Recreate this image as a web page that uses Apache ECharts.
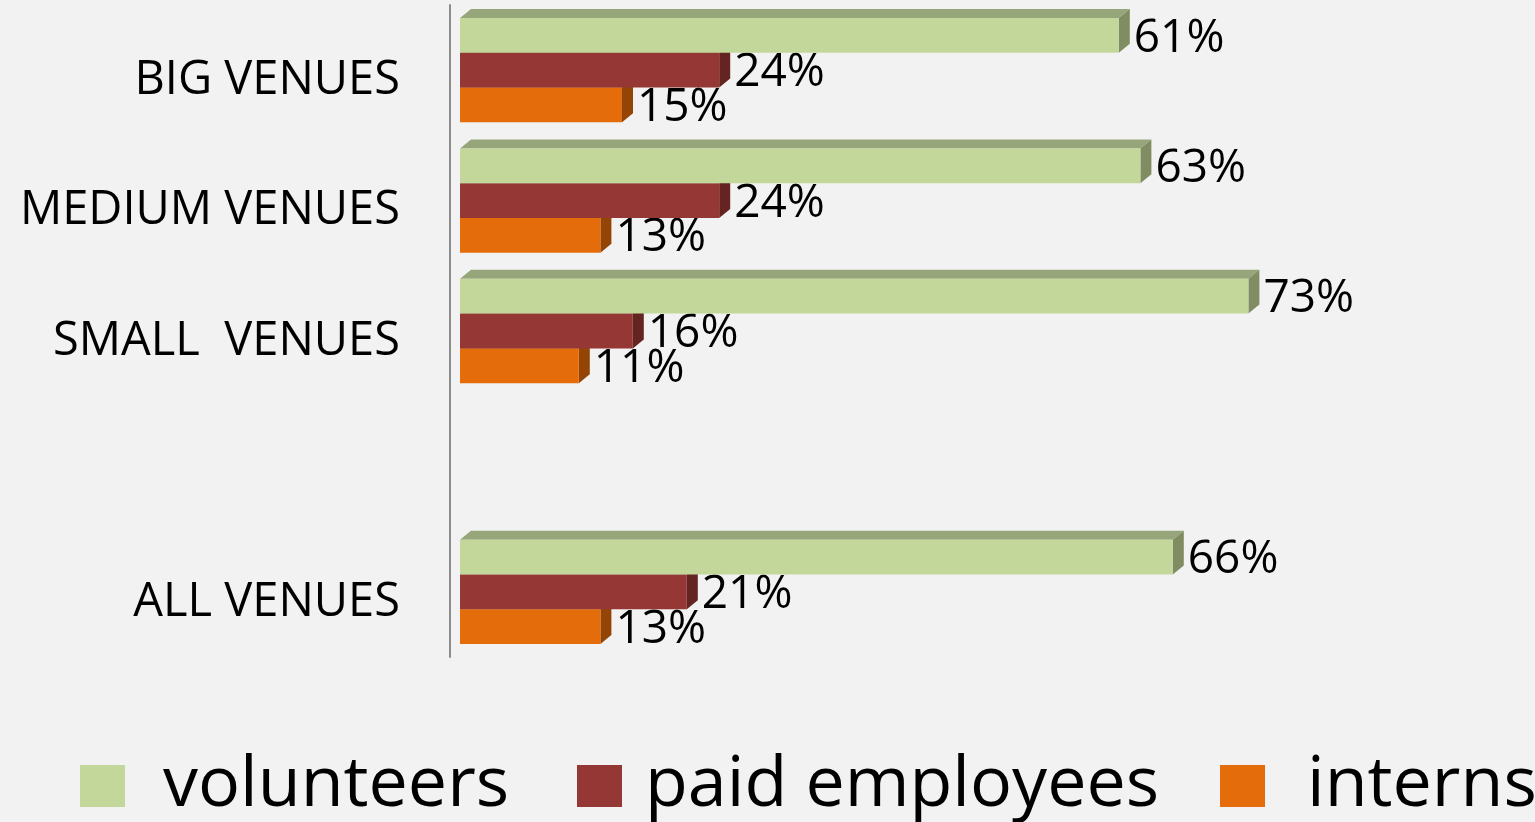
<!DOCTYPE html>
<html>
<head>
<meta charset="utf-8">
<script src="https://cdn.jsdelivr.net/npm/echarts@6/dist/echarts.min.js"></script>
<style>
  html, body { margin: 0; padding: 0; background: #f2f2f2; }
  #chart { width: 1535px; height: 822px; }
</style>
</head>
<body>
<div id="chart"></div>
<script>
// categories top to bottom, the blank one is the gap before the total
var categories = ["BIG VENUES", "MEDIUM VENUES", "SMALL  VENUES", "", "ALL VENUES"];
var volunteers = [61, 63, 73, null, 66];
var paidEmployees = [24, 24, 16, null, 21];
var interns = [15, 13, 11, null, 13];

var FONT = "Open Sans";

// front / top / side colours of the pseudo 3d bars
var palette = [
  { front: "#c4d79b", top: "#97a67a", side: "#808d62" },
  { front: "#953735", top: "#6e2826", side: "#632422" },
  { front: "#e46c0a", top: "#a84f07", side: "#944506" },
];

function toData(values) {
  var out = [];
  values.forEach(function (v, i) {
    if (v != null) out.push([v, i]);
  });
  return out;
}

function makeRender(idx) {
  var c = palette[idx];
  return function (params, api) {
    var cat = api.value(1);
    var val = api.value(0);
    var base = api.coord([0, cat]);
    var end = api.coord([val, cat]);
    var band = api.size([0, 1])[1];
    var t = (band * 0.8) / 3; // 3 bars per group, no gap between them
    var y0 = base[1] - 1.5 * t + idx * t;
    var y1 = y0 + t;
    var x0 = base[0];
    var x1 = end[0];
    var dx = 11, dy = -9; // depth of the box
    return {
      type: "group",
      children: [
        {
          type: "polygon",
          shape: { points: [[x0, y0], [x0 + dx, y0 + dy], [x1 + dx, y0 + dy], [x1, y0]] },
          style: { fill: c.top },
        },
        {
          type: "polygon",
          shape: { points: [[x1, y0], [x1 + dx, y0 + dy], [x1 + dx, y1 + dy], [x1, y1]] },
          style: { fill: c.side },
        },
        {
          type: "rect",
          shape: { x: x0, y: y0, width: x1 - x0, height: t },
          style: { fill: c.front },
        },
        {
          type: "text",
          x: x1 + dx + 4,
          y: (y0 + y1) / 2 + 3,
          z2: 10,
          style: {
            text: val + "%",
            fontSize: 46,
            fontFamily: FONT,
            fill: "#000000",
            align: "left",
            verticalAlign: "middle",
          },
        },
      ],
    };
  };
}

function legendAt(name, left, pad) {
  return {
    data: [name],
    left: left,
    top: 751,
    padding: 0,
    icon: "rect",
    itemWidth: 45,
    itemHeight: 42,
    selectedMode: false,
    textStyle: {
      fontSize: 70,
      fontFamily: FONT,
      color: "#000000",
      lineHeight: 70,
      padding: [0, 0, 0, pad],
    },
  };
}

var chart = echarts.init(document.getElementById("chart"));

chart.setOption({
  backgroundColor: "#f2f2f2",
  animation: false,
  legend: [
    legendAt("volunteers", 80, 33),
    legendAt("paid employees", 577, 18),
    legendAt("interns", 1220, 37),
  ],
  grid: {
    left: 460,
    top: 5,
    height: 652,
    width: 972,
  },
  xAxis: {
    type: "value",
    min: 0,
    max: 90,
    show: false,
  },
  yAxis: {
    type: "category",
    inverse: true,
    data: categories,
    offset: 10,
    axisLine: {
      show: true,
      onZero: false,
      lineStyle: { color: "#8c8c8c", width: 2 },
    },
    axisTick: { show: false },
    splitLine: { show: false },
    axisLabel: {
      margin: 50,
      formatter: function (v) {
        return "{a|" + v + "}";
      },
      rich: {
        a: {
          fontSize: 47,
          fontFamily: FONT,
          color: "#000000",
          padding: [21, 0, 0, 0],
        },
      },
    },
  },
  series: [
    {
      name: "volunteers",
      type: "custom",
      z: 5,
      itemStyle: { color: palette[0].front },
      renderItem: makeRender(0),
      encode: { x: 0, y: 1 },
      data: toData(volunteers),
    },
    {
      name: "paid employees",
      type: "custom",
      z: 4,
      itemStyle: { color: palette[1].front },
      renderItem: makeRender(1),
      encode: { x: 0, y: 1 },
      data: toData(paidEmployees),
    },
    {
      name: "interns",
      type: "custom",
      z: 3,
      itemStyle: { color: palette[2].front },
      renderItem: makeRender(2),
      encode: { x: 0, y: 1 },
      data: toData(interns),
    },
  ],
});
</script>
</body>
</html>
